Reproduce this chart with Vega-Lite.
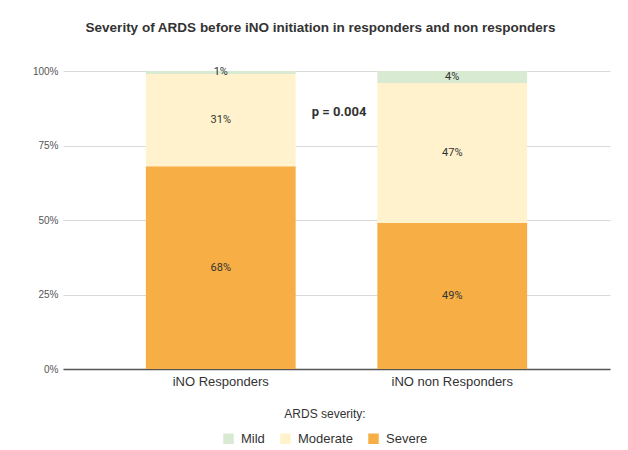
{
  "$schema": "https://vega.github.io/schema/vega-lite/v6.json",
  "width": 547,
  "height": 298,
  "autosize": {"type": "none"},
  "padding": {"left": 63, "top": 71, "right": 18, "bottom": 81},
  "background": "white",
  "title": {
    "text": "Severity of ARDS before iNO initiation in responders and non responders",
    "font": "Liberation Sans",
    "fontSize": 13.5,
    "fontWeight": "bold",
    "color": "#333333",
    "anchor": "middle",
    "offset": 32,
    "dx": -16
  },
  "config": {
    "view": {"stroke": null},
    "font": "Liberation Sans"
  },
  "layer": [
    {
      "data": {
        "values": [
          {"group": "iNO Responders", "severity": "Severe", "v": 0.68},
          {"group": "iNO Responders", "severity": "Moderate", "v": 0.31},
          {"group": "iNO Responders", "severity": "Mild", "v": 0.01},
          {"group": "iNO non Responders", "severity": "Severe", "v": 0.49},
          {"group": "iNO non Responders", "severity": "Moderate", "v": 0.47},
          {"group": "iNO non Responders", "severity": "Mild", "v": 0.04}
        ]
      },
      "transform": [
        {"stack": "v", "groupby": ["group"], "sort": [{"field": "severity", "order": "descending"}], "as": ["y0", "y1"]},
        {"calculate": "(datum.y0 + datum.y1) / 2", "as": "ymid"}
      ],
      "layer": [
        {
          "mark": {"type": "bar"},
          "encoding": {
            "x": {
              "field": "group", "type": "nominal", "sort": null,
              "scale": {"paddingInner": 0.353, "paddingOuter": 0.358},
              "axis": {"title": null, "labelAngle": 0, "labelFontSize": 13, "labelColor": "#333333", "labelPadding": 6, "ticks": false, "domainColor": "#555555", "domainWidth": 1.5, "labelFont": "Liberation Sans"}
            },
            "y": {
              "field": "y0", "type": "quantitative",
              "scale": {"domain": [0, 1]},
              "axis": {"title": null, "format": "%", "values": [0, 0.25, 0.5, 0.75, 1], "ticks": false, "domain": false, "labelFontSize": 10, "labelColor": "#555555", "labelPadding": 5, "gridColor": "#d9d9d9", "labelFont": "Liberation Sans"}
            },
            "y2": {"field": "y1"},
            "color": {
              "field": "severity", "type": "nominal",
              "scale": {"domain": ["Mild", "Moderate", "Severe"], "range": ["#d9ead3", "#fff2cc", "#f6ae45"]},
              "legend": {
                "title": "ARDS severity:",
                "orient": "none",
                "legendX": 159,
                "legendY": 338,
                "direction": "horizontal",
                "titleAnchor": "middle",
                "titleOrient": "top",
                "titleFont": "Liberation Sans",
                "titleFontSize": 12,
                "titleFontWeight": "normal",
                "titleColor": "#333333",
                "titlePadding": 11,
                "labelFont": "Liberation Sans",
                "labelFontSize": 13,
                "labelColor": "#333333",
                "labelOffset": 6,
                "symbolType": "square",
                "symbolSize": 110,
                "symbolStrokeWidth": 0,
                "columnPadding": 14
              }
            }
          }
        },
        {
          "mark": {"type": "text", "font": "Roboto", "fontSize": 11, "color": "#333333", "baseline": "middle"},
          "encoding": {
            "x": {"field": "group", "type": "nominal", "sort": null},
            "y": {"field": "ymid", "type": "quantitative"},
            "text": {"field": "v", "type": "quantitative", "format": ".0%"}
          }
        }
      ]
    },
    {
      "data": {"values": [{"group": "iNO Responders", "y": 0.862, "label": "p = 0.004"}]},
      "mark": {"type": "text", "font": "Roboto", "fontSize": 13, "fontWeight": "bold", "color": "#333333", "baseline": "middle"},
      "encoding": {
        "x": {"field": "group", "type": "nominal", "bandPosition": 1.29},
        "y": {"field": "y", "type": "quantitative"},
        "text": {"field": "label"}
      }
    }
  ]
}
